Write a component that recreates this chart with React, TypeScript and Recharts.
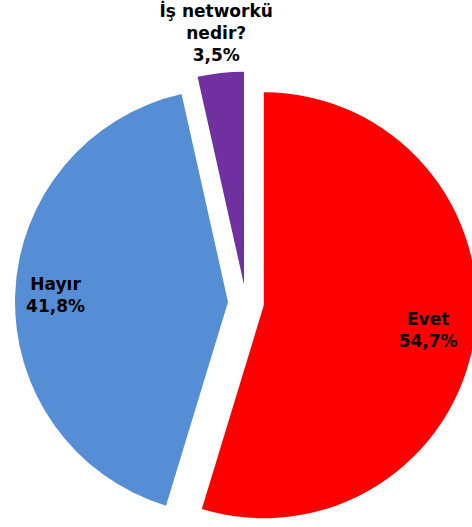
import React from 'react';
import { PieChart, Pie, Cell } from 'recharts';

const categories = ['Evet', 'Hayır', 'İş networkü nedir?'];
const values = [54.7, 41.8, 3.5];
const labelLines = [['Evet'], ['Hayır'], ['İş networkü', 'nedir?']];
const colors = ['#FF0000', '#558ED5', '#7030A0'];

const W = 472;
const H = 527;
const CX = 246;
const CY = 302.6;
const R = 213;
const EXPLODE = 18;
const labelRadius = [0.78, 0.81, 1.19];
const LINE_H = 22;
const RAD = Math.PI / 180;

const total = values.reduce((a, b) => a + b, 0);
const data = categories.map((name, i) => ({ name, value: values[i] }));

const mids = (() => {
  let acc = 0;
  return values.map((v) => {
    const start = acc;
    acc += v;
    return 90 - ((start + v / 2) / total) * 360;
  });
})();

const fmt = (v: number) => ((v / total) * 100).toFixed(1).replace('.', ',') + '%';

const makeLabel = (target: number) => (props: any) => {
  const { cx, cy, midAngle, outerRadius, index } = props;
  if (index !== target) return null;
  const r = outerRadius * labelRadius[index];
  const x = cx + r * Math.cos(-midAngle * RAD);
  const y = cy + r * Math.sin(-midAngle * RAD);
  const lines = [...labelLines[index], fmt(values[index])];
  const y0 = y - ((lines.length - 1) / 2) * LINE_H;
  return (
    <text
      x={x}
      y={y0}
      textAnchor="middle"
      fill="#000"
      style={{ fontFamily: 'DejaVu Sans', fontWeight: 'bold', fontSize: 17 }}
    >
      {lines.map((t, k) => (
        <tspan key={k} x={x} y={y0 + k * LINE_H} dominantBaseline="central">
          {t}
        </tspan>
      ))}
    </text>
  );
};

export default function App() {
  return (
    <div style={{ position: 'absolute', left: 0, top: 0, width: W, height: H, background: '#fff' }}>
      <PieChart width={W} height={H} margin={{ top: 0, right: 0, bottom: 0, left: 0 }}>
        {values.map((_, i) => {
          const dx = EXPLODE * Math.cos(mids[i] * RAD);
          const dy = -EXPLODE * Math.sin(mids[i] * RAD);
          return (
            <Pie
              key={i}
              data={data}
              dataKey="value"
              nameKey="name"
              cx={CX + dx}
              cy={CY + dy}
              startAngle={90}
              endAngle={-270}
              outerRadius={R}
              innerRadius={0}
              stroke="none"
              isAnimationActive={false}
              label={makeLabel(i)}
              labelLine={false}
            >
              {data.map((_, j) => (
                <Cell key={j} fill={j === i ? colors[j] : 'transparent'} stroke="none" />
              ))}
            </Pie>
          );
        })}
      </PieChart>
    </div>
  );
}
